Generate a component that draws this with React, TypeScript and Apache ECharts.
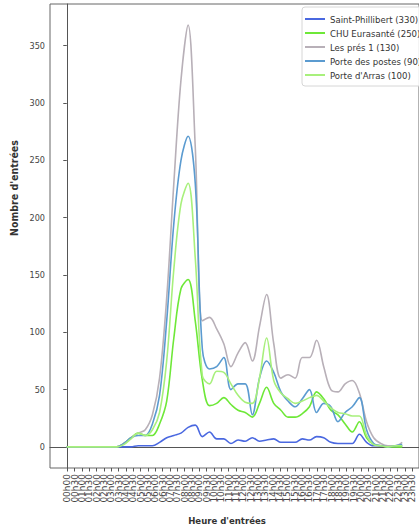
import React, { useEffect, useRef } from "react";
import * as echarts from "echarts";

const timeLabels = [
  "00h00","00h30","01h00","01h30","02h00","02h30","03h00","03h30",
  "04h00","04h30","05h00","05h30","06h00","06h30","07h00","07h30",
  "08h00","08h30","09h00","09h30","10h00","10h30","11h00","11h30",
  "12h00","12h30","13h00","13h30","14h00","14h30","15h00","15h30",
  "16h00","16h30","17h00","17h30","18h00","18h30","19h00","19h30",
  "20h00","20h30","21h00","21h30","22h00","22h30","23h00","23h30",
];

const seriesNames = [
  "Saint-Phillibert (330)",
  "CHU Eurasanté (250)",
  "Les prés 1 (130)",
  "Porte des postes (90)",
  "Porte d'Arras (100)",
];

const saintPhillibert = [0,0,0,0,0,0,0,0, 0,0,1,1,1,4,8,10, 12,17,19,9,13,7,7,3, 6,5,8,5,6,7,4,4, 4,7,6,9,8,4,3,3, 3,11,4,1,1,1,1,1];
const chuEurasante = [0,0,0,0,0,0,0,0, 3,8,12,10,10,20,40,95, 138,146,110,58,36,38,43,37, 32,30,26,38,52,38,32,26, 26,29,35,48,42,32,28,20, 13,22,8,2,1,0,0,0];
const lesPres = [0,0,0,0,0,0,0,0, 3,8,12,15,28,60,130,230, 320,368,262,110,113,103,90,70, 82,91,75,105,133,90,60,63, 60,78,78,93,70,50,48,55, 58,47,22,8,3,1,1,4];
const porteDesPostes = [0,0,0,0,0,0,0,0, 3,8,10,10,20,45,110,195, 250,271,230,85,68,70,78,50, 55,55,28,60,75,65,48,40, 35,42,50,30,38,35,22,30, 35,43,15,3,1,0,1,2];
const porteDArras = [0,0,0,0,0,0,0,0, 2,7,12,10,15,30,75,155, 212,230,165,62,55,66,65,55, 45,39,38,60,95,58,47,42, 38,40,43,45,40,34,30,29, 27,27,10,2,1,0,1,1];

const yTicks = [0, 50, 100, 150, 200, 250, 300, 350];

const colors = ["#4a68e0", "#6ee838", "#b8b0b8", "#5b9bd0", "#a8f07c"];

const allValues = [saintPhillibert, chuEurasante, lesPres, porteDesPostes, porteDArras];

export default function App() {
  const ref = useRef<HTMLDivElement>(null);
  useEffect(() => {
    if (!ref.current) return;
    const chart = echarts.init(ref.current, undefined, { renderer: "svg" });
    const n = timeLabels.length - 1;
    const xPad = n * 0.05;
    const yMaxData = Math.max(...allValues.map((a) => Math.max(...a)));
    const yPad = yMaxData * 0.05;
    const condensed = "'DejaVu Sans Condensed', 'DejaVu Sans', sans-serif";

    // main plotting grid geometry
    const gLeft = 50;
    const gRight = -10.5;
    const W = 419;
    const gWidth = W - gLeft - gRight;
    const pxPerUnit = gWidth / (n + 2 * xPad);
    const firstX = gLeft + xPad * pxPerUnit;
    const bandLeft = firstX - pxPerUnit / 2;
    const bandRight = W - (firstX + n * pxPerUnit + pxPerUnit / 2);

    chart.setOption({
      animation: false,
      backgroundColor: "#ffffff",
      color: colors,
      grid: [
        {
          left: gLeft,
          top: 4,
          right: gRight,
          bottom: 59,
          show: true,
          borderColor: "#666",
          borderWidth: 1,
          containLabel: false,
        },
        {
          left: bandLeft,
          top: 4,
          right: bandRight,
          bottom: 59,
          show: false,
          containLabel: false,
        },
      ],
      legend: {
        orient: "vertical",
        left: 302,
        top: 7,
        data: seriesNames,
        icon: "rect",
        itemWidth: 20,
        itemHeight: 2,
        itemGap: 2,
        padding: [6, 4, 5, 3],
        backgroundColor: "rgba(255,255,255,0.85)",
        borderColor: "#d6d6d6",
        borderWidth: 1,
        borderRadius: 3,
        textStyle: {
          fontFamily: condensed,
          fontSize: 9.5,
          color: "#333",
          lineHeight: 12,
        },
      },
      xAxis: [
        {
          type: "value",
          gridIndex: 0,
          min: -xPad,
          max: n + xPad,
          splitLine: { show: false },
          axisLine: { show: true, lineStyle: { color: "#555", width: 1 } },
          axisTick: { show: false },
          axisLabel: { show: false },
        },
        {
          type: "category",
          gridIndex: 1,
          data: timeLabels,
          boundaryGap: true,
          axisLine: { show: false },
          splitLine: { show: false },
          axisTick: {
            show: true,
            alignWithLabel: true,
            interval: 0,
            length: 3.5,
            lineStyle: { color: "#555" },
          },
          axisLabel: {
            interval: 0,
            rotate: 90,
            fontSize: 9,
            fontFamily: "'DejaVu Sans', sans-serif",
            color: "#444",
            margin: 6,
          },
        },
      ],
      yAxis: [
        {
          type: "value",
          gridIndex: 0,
          min: -yPad,
          max: yMaxData + yPad,
          splitLine: { show: false },
          axisLine: { show: true, lineStyle: { color: "#555", width: 1 } },
          axisTick: {
            show: true,
            customValues: yTicks,
            length: 3.5,
            lineStyle: { color: "#555" },
          },
          axisLabel: {
            customValues: yTicks,
            fontSize: 9,
            fontFamily: condensed,
            color: "#444",
            margin: 5,
          },
        },
        {
          type: "value",
          gridIndex: 1,
          show: false,
          min: 0,
          max: 1,
        },
      ],
      graphic: [
        {
          type: "text",
          x: 227,
          y: 520,
          style: {
            text: "Heure d'entrées",
            font: "bold 9.5px 'DejaVu Sans Condensed', 'DejaVu Sans', sans-serif",
            fill: "#333",
            align: "center",
            verticalAlign: "middle",
          },
        },
        {
          type: "text",
          x: 14,
          y: 188,
          rotation: Math.PI / 2,
          style: {
            text: "Nombre d'entrées",
            font: "bold 10.5px 'DejaVu Sans Condensed', 'DejaVu Sans', sans-serif",
            fill: "#333",
            align: "center",
            verticalAlign: "middle",
          },
        },
      ],
      series: seriesNames.map((name, si) => ({
        name,
        type: "line",
        xAxisIndex: 0,
        yAxisIndex: 0,
        smooth: 0.35,
        symbol: "none",
        lineStyle: { width: 1.6, color: colors[si] },
        data: allValues[si].map((v, i) => [i, v]),
      })),
    });
    return () => chart.dispose();
  }, []);
  return (
    <div
      ref={ref}
      style={{ position: "fixed", left: 0, top: 0, width: 419, height: 527 }}
    />
  );
}
